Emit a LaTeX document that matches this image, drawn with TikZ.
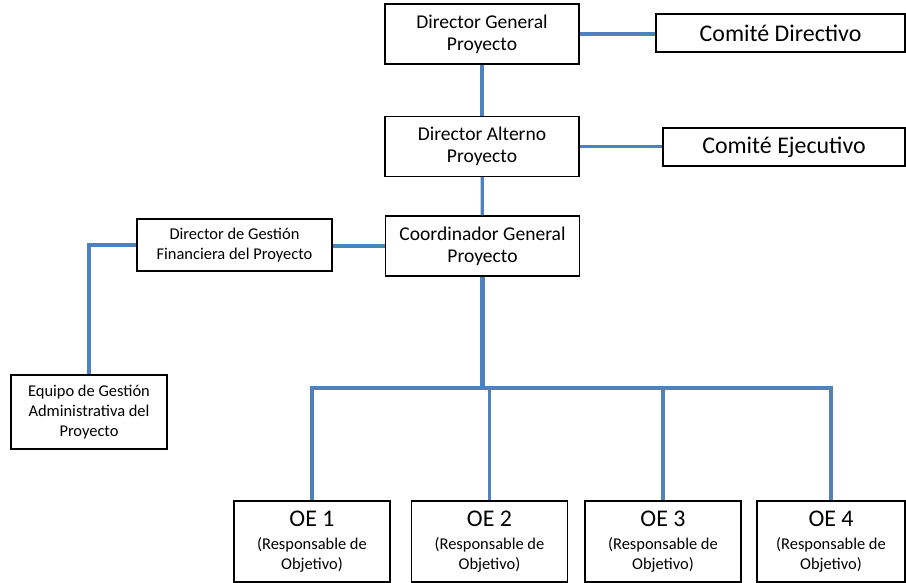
\documentclass[tikz,border=0pt]{standalone}
\usepackage{fontspec}
\setmainfont{Carlito}
\definecolor{linkblue}{HTML}{4F81BD}
\newcommand{\smalltxt}{\fontsize{11.7}{14.2}\selectfont}
\newcommand{\midtxt}{\fontsize{13.9}{15.6}\selectfont}
\newcommand{\bigtxt}{\fontsize{17}{20}\selectfont}
\begin{document}
\begin{tikzpicture}[x=0.025cm,y=-0.025cm,
  box/.style={draw,line width=0.8pt,inner sep=0pt,align=center},
  link/.style={draw=linkblue,line width=2.3pt}]
\useasboundingbox (0,0) rectangle (906,583);
\node(dg) at (482,34) [box, font=\midtxt, minimum width=4.85cm, minimum height=1.5cm]{Director General\\Proyecto};
\node(cd) at (780.5,33) [box, font=\bigtxt, minimum width=6.225cm, minimum height=0.95cm]{Comité Directivo};
\node(da) at (482,146.5) [box, font=\midtxt, minimum width=4.85cm, minimum height=1.5cm]{Director Alterno\\Proyecto};
\node(ce) at (784,147) [box, font=\bigtxt, minimum width=6.05cm, minimum height=0.95cm]{Comité Ejecutivo};
\node(cg) at (482.5,246) [box, font=\midtxt, minimum width=4.85cm, minimum height=1.5cm]{Coordinador General\\Proyecto};
\node(dgf) at (234.5,245) [box, font=\smalltxt, minimum width=4.875cm, minimum height=1.3cm]{Director de Gestión\\Financiera del Proyecto};
\node(eg) at (89,412) [box, font=\smalltxt, minimum width=3.9cm, minimum height=1.85cm]{Equipo de Gestión\\Administrativa del\\Proyecto};
\node(oe1) at (312,541.5) [box, font=\smalltxt, minimum width=3.9cm, minimum height=2.025cm]{{\bigtxt OE 1}\\[2pt](Responsable de\\Objetivo)};
\node(oe2) at (489.5,541.5) [box, font=\smalltxt, minimum width=3.9cm, minimum height=2.025cm]{{\bigtxt OE 2}\\[2pt](Responsable de\\Objetivo)};
\node(oe3) at (663,541.5) [box, font=\smalltxt, minimum width=3.9cm, minimum height=2.025cm]{{\bigtxt OE 3}\\[2pt](Responsable de\\Objetivo)};
\node(oe4) at (831,541.5) [box, font=\smalltxt, minimum width=3.7cm, minimum height=2.025cm]{{\bigtxt OE 4}\\[2pt](Responsable de\\Objetivo)};
\coordinate(bus) at (483,388);

\draw [link] (dg.east) -- (cd.west |- dg.east);
\draw [link] (dg) -- (da);
\draw [link] (da.east) -- (ce.west |- da.east);
\draw [link] (da) -- (cg);
\draw [link] (cg.west) -- (dgf.east |- cg.west);
\draw [link] (dgf.west) -| (eg.north);

\draw [link] (oe1.north) -- (oe1.north |- bus) -- (oe4.north |- bus) -- (oe4.north);
\draw [link] (oe2.north) -- (oe2.north |- bus);
\draw [link] (oe3.north) -- (oe3.north |- bus);
\draw [link,line width=3.2pt] (cg.south) |- (oe3.north |- bus);

\end{tikzpicture}
\end{document}
